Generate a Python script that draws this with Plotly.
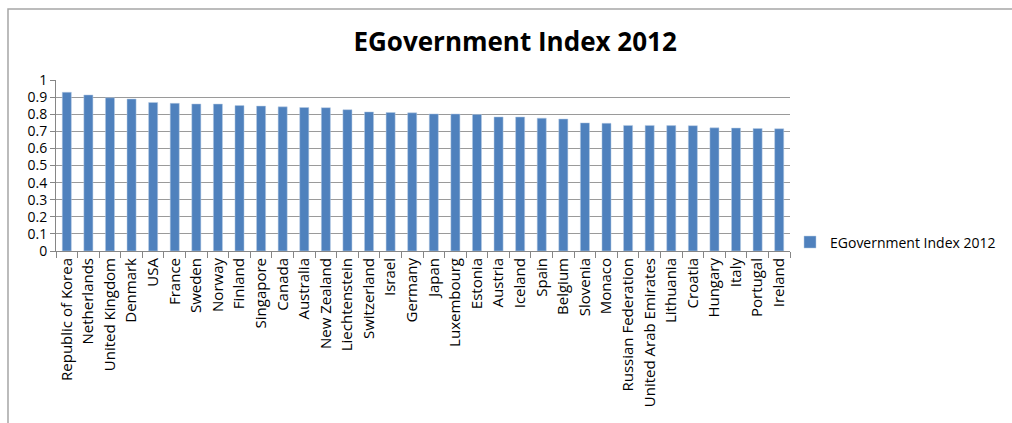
import plotly.graph_objects as go

countries = ["Republic of Korea", "Netherlands", "United Kingdom", "Denmark", "USA",
             "France", "Sweden", "Norway", "Finland", "Singapore", "Canada", "Australia",
             "New Zealand", "Liechtenstein", "Switzerland", "Israel", "Germany", "Japan",
             "Luxembourg", "Estonia", "Austria", "Iceland", "Spain", "Belgium", "Slovenia",
             "Monaco", "Russian Federation", "United Arab Emirates", "Lithuania", "Croatia",
             "Hungary", "Italy", "Portugal", "Ireland"]
values = [0.9283, 0.9125, 0.8960, 0.8889, 0.8687, 0.8635, 0.8599, 0.8593, 0.8505, 0.8474,
          0.8430, 0.8390, 0.8381, 0.8264, 0.8134, 0.8100, 0.8079, 0.8019, 0.8014, 0.7987,
          0.7840, 0.7835, 0.7770, 0.7718, 0.7492, 0.7468, 0.7345, 0.7344, 0.7333, 0.7328,
          0.7201, 0.7190, 0.7165, 0.7149]
series_name = "EGovernment Index 2012"
y_ticks = [round(i * 0.1, 1) for i in range(11)]
y_ticklabels = ["0", "0.1", "0.2", "0.3", "0.4", "0.5", "0.6", "0.7", "0.8", "0.9", "1"]

fig = go.Figure()
fig.add_trace(go.Bar(x=countries, y=values, name=series_name, width=0.42,
                     marker=dict(color="#4F81BD", line=dict(color="#B9CDE5", width=0.5)),
                     showlegend=True))

fig.update_layout(
    width=1012, height=423,
    margin=dict(l=56, r=222, t=80, b=172, autoexpand=False),
    paper_bgcolor="white", plot_bgcolor="white",
    font=dict(family="Open Sans", size=12, color="black"),
    title=dict(text="<b>EGovernment Index 2012</b>", x=0.509, xref="container", xanchor="center",
               y=0.9, yref="container", yanchor="middle",
               font=dict(family="Open Sans", size=26, color="black")),
    showlegend=True,
    legend=dict(x=1.0, xanchor="left", y=0.05, yanchor="middle",
                font=dict(family="Open Sans", size=14), bgcolor="rgba(0,0,0,0)",
                itemwidth=30),
    bargap=0.58,
)
fig.update_xaxes(type="category", tickangle=-90, tickson="boundaries", ticks="outside",
                 ticklen=6, tickcolor="#868686", showline=True, linecolor="#868686",
                 linewidth=1, showgrid=False, automargin=False,
                 tickfont=dict(size=15, family="Open Sans"))
fig.update_yaxes(range=[0, 1], tickvals=y_ticks, ticktext=y_ticklabels, ticks="outside",
                 ticklen=5, tickcolor="#868686", showline=True, linecolor="#868686",
                 linewidth=1, showgrid=True, gridcolor="#9A9A9A", gridwidth=1,
                 zeroline=False, automargin=False, tickfont=dict(size=14, family="Open Sans"))

# outer chart frame (partially visible in reference)
fig.add_shape(type="rect", xref="paper", yref="paper", x0=-0.0654, x1=1.4, y0=-1.1, y1=1.415,
              line=dict(color="#A6A6A6", width=1.5), fillcolor="rgba(0,0,0,0)", layer="below")

fig.write_html("out.html")
